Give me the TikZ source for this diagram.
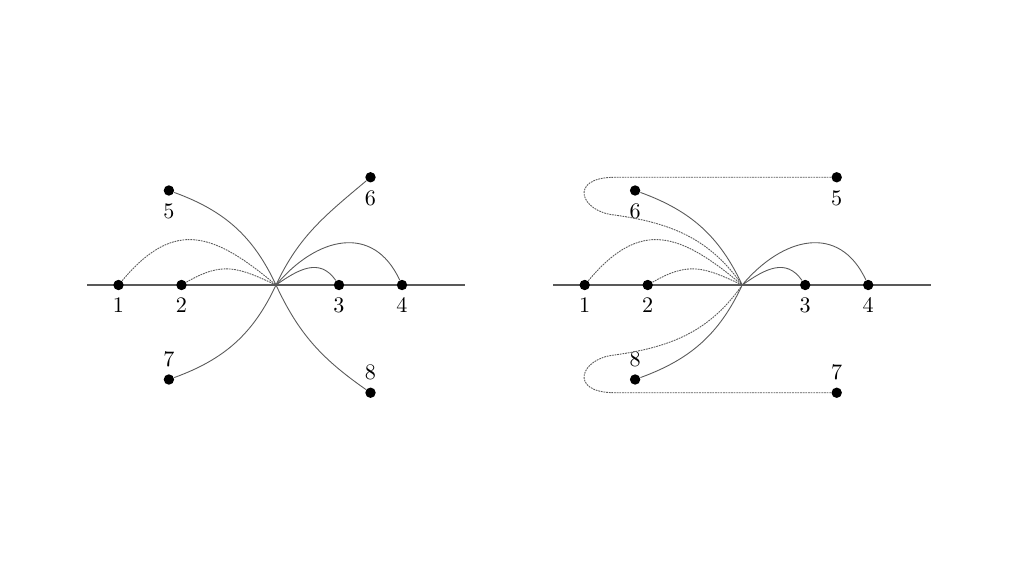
\documentclass[tikz,border=0pt]{standalone}
\usepackage{tikz}

\begin{document}
\begin{tikzpicture}[
  pt/.style={circle, fill=black, inner sep=0pt, minimum size=1.65mm},
  axis/.style={gray!70!black, semithick},
  arc/.style={thin, gray!70!black},
  dotarc/.style={thin, gray!70!black, dash pattern=on 0.8pt off 0.4pt}]
\useasboundingbox (-4.381,-4.619) rectangle (11.873,4.524);

% left picture: all curves meet in one point of the line
\coordinate (ac) at (0,0);
\draw[axis] (-3,0) -- (3,0);
\node[pt, label=below:$1$] (a1) at (-2.5,0) {};
\node[pt, label=below:$2$] (a2) at (-1.5,0) {};
\node[pt, label=below:$3$] (a3) at (1,0) {};
\node[pt, label=below:$4$] (a4) at (2,0) {};
\node[pt, label=below:$5$] (a5) at (-1.7,1.5) {};
\node[pt, label=below:$6$] (a6) at (1.5,1.71) {};
\node[pt, label=above:$7$] (a7) at (-1.7,-1.5) {};
\node[pt, label=above:$8$] (a8) at (1.5,-1.71) {};

\draw[dotarc] (a1) to[out=50, in=140, looseness=1.35] (ac);
\draw[dotarc] (a2) to[out=30, in=155, looseness=1.2] (ac);
\draw[arc] (a5) to[out=-20, in=115] (ac) to[out=-65, in=145] (a8);
\draw[arc] (a7) to[out=20, in=-115] (ac) to[out=65, in=-140] (a6);
\draw[arc] (ac) to[out=35, in=125, looseness=1.2] (a3);
\draw[arc] (ac) to[out=50, in=115, looseness=1.3] (a4);

% right picture: 5 and 7 go round the left side
\begin{scope}[shift={(7.4,0)}]
\coordinate (bc) at (0,0);
\draw[axis] (-3,0) -- (3,0);
\node[pt, label=below:$1$] (b1) at (-2.5,0) {};
\node[pt, label=below:$2$] (b2) at (-1.5,0) {};
\node[pt, label=below:$3$] (b3) at (1,0) {};
\node[pt, label=below:$4$] (b4) at (2,0) {};
\node[pt, label=below:$5$] (b5) at (1.5,1.71) {};
\node[pt, label=below:$6$] (b6) at (-1.7,1.5) {};
\node[pt, label=above:$7$] (b7) at (1.5,-1.71) {};
\node[pt, label=above:$8$] (b8) at (-1.7,-1.5) {};
\coordinate (t1) at (-2.02,1.71);
\coordinate (t2) at (-2.02,1.11);
\coordinate (u1) at (-2.02,-1.71);
\coordinate (u2) at (-2.02,-1.11);

\draw[dotarc] (b1) to[out=50, in=140, looseness=1.35] (bc);
\draw[dotarc] (b2) to[out=30, in=155, looseness=1.2] (bc);
\draw[arc] (b6) to[out=-20, in=115] (bc);
\draw[arc] (b8) to[out=20, in=-115] (bc);
\draw[arc] (bc) to[out=35, in=125, looseness=1.2] (b3);
\draw[arc] (bc) to[out=50, in=115, looseness=1.3] (b4);
\draw[dotarc] (b5) -- (t1) .. controls +(-0.75,0) and +(-0.55,0.05) .. (t2)
  to[out=-8, in=125] (bc);
\draw[dotarc] (b7) -- (u1) .. controls +(-0.75,0) and +(-0.55,-0.05) .. (u2)
  to[out=8, in=-125] (bc);
\end{scope}
\end{tikzpicture}
\end{document}
